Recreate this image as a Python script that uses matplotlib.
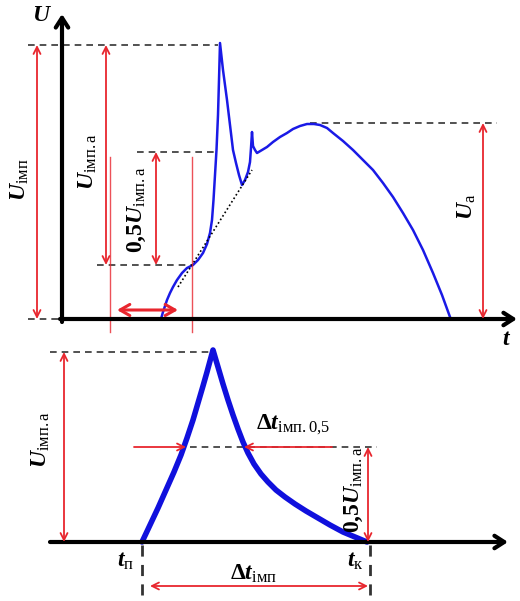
import numpy as np
import matplotlib.pyplot as plt

plt.rcParams['mathtext.fontset'] = 'custom'
plt.rcParams['mathtext.rm'] = 'Liberation Serif'
plt.rcParams['mathtext.it'] = 'Liberation Serif:italic'
plt.rcParams['mathtext.bf'] = 'Liberation Serif:bold:italic'
plt.rcParams['mathtext.sf'] = 'Liberation Serif:bold'

# top oscillogram (diagram units, y grows downwards)
top_x = [161, 163, 165, 167, 170, 173, 177, 182, 187, 193, 198, 203, 207, 210, 212, 213.5,
         215, 216.5, 218, 219, 220,
         223, 227, 230, 233, 236, 239, 242,
         245, 248, 250, 251, 252, 253, 255, 257,
         262, 267, 273, 280, 287, 293, 300, 307, 314, 320, 327, 333, 343, 353, 363, 373,
         383, 393, 403, 413, 423, 433, 442, 450]
top_y = [319, 312, 306, 300, 293, 287, 280, 273, 268, 265, 260, 253, 244, 233, 220, 200,
         175, 150, 115, 80, 43,
         70, 100, 125, 150, 163, 175, 185,
         180, 172, 162, 148, 132, 146, 150, 153,
         150, 147, 142, 137, 133, 129, 126, 124, 124, 125, 128, 133, 141, 150, 160, 170,
         183, 197, 213, 230, 250, 273, 295, 317]
tangent_x = [178, 252]
tangent_y = [287, 170]

# bottom pulse
bot_x = [142, 150, 158, 166, 174, 181, 187, 193, 198, 203, 207, 210, 213,
         218, 223, 228, 233, 238, 243, 248, 254, 261, 268, 276, 285, 295, 306, 318, 330,
         343, 355, 367]
bot_y = [542, 525, 508, 490, 472, 455, 438, 420, 403, 386, 372, 361, 350,
         367, 384, 400, 415, 429, 442, 453, 464, 474, 482, 490, 497, 504, 511, 518, 525,
         532, 537, 542]

red = '#e8262e'
fig = plt.figure(figsize=(5.2, 6.01), dpi=100)
ax = fig.add_axes([0, 0, 1, 1])
ax.set_xlim(0, 520)
ax.set_ylim(601, 0)
ax.axis('off')

def arrow(x0, y0, x1, y1, style='<->', color=red, lw=1.3, hl=0.5, hw=0.25):
    ax.annotate('', xy=(x1, y1), xytext=(x0, y0),
                arrowprops=dict(arrowstyle=f'{style},head_length={hl},head_width={hw}',
                                color=color, lw=lw, shrinkA=0, shrinkB=0))

def dash(x0, y0, x1, y1, lw=1.2):
    ax.plot([x0, x1], [y0, y1], color='#333333', lw=lw, ls=(0, (4, 3)))

# ---- top panel
arrow(62, 322, 62, 14, style='->', color='black', lw=3, hl=0.7, hw=0.45)
arrow(60, 319, 517, 319, style='->', color='black', lw=3, hl=0.7, hw=0.45)
dash(28, 45, 218, 45)
dash(137, 152, 215, 152)
dash(97, 265, 192, 265)
dash(310, 123, 497, 123)
dash(28, 319, 62, 319)

ax.plot(top_x, top_y, color='#1a1ae6', lw=1.8, solid_joinstyle='round')
ax.plot(tangent_x, tangent_y, color='black', lw=1.2, ls=(0, (1, 1.5)))

arrow(37, 45, 37, 319)
arrow(106, 45, 106, 265)
arrow(156, 152, 156, 265)
arrow(483, 123, 483, 319)
arrow(117, 310, 178, 310, lw=2.2, hl=0.7, hw=0.4)
ax.plot([110, 110], [157, 332], color=red, lw=1, alpha=0.8)
ax.plot([192, 192], [157, 332], color=red, lw=1, alpha=0.8)

ax.text(42, 14, r'$\mathbf{U}$', fontsize=17, ha='center', va='center')
ax.text(507, 338, r'$\mathbf{t}$', fontsize=17, ha='center', va='center')
ax.text(19, 180, r'$\mathbf{U}_{\mathrm{імп}}$', fontsize=17, rotation=90, ha='center', va='center')
ax.text(87, 162, r'$\mathbf{U}_{\mathrm{імп.а}}$', fontsize=17, rotation=90, ha='center', va='center')
ax.text(136, 210, r'$\mathsf{0{,}5}\mathbf{U}_{\mathrm{імп.а}}$', fontsize=17, rotation=90,
        ha='center', va='center')
ax.text(466, 207, r'$\mathbf{U}_{\mathrm{а}}$', fontsize=17, rotation=90, ha='center', va='center')

# ---- bottom panel
arrow(50, 542, 508, 542, style='->', color='black', lw=3, hl=0.7, hw=0.45)
dash(50, 352, 212, 352)
dash(190, 447, 377, 447)
dash(142, 545, 142, 601, lw=2)
dash(370, 545, 370, 601, lw=2)

ax.plot(bot_x, bot_y, color='#1010dd', lw=4, solid_capstyle='round', solid_joinstyle='round')

arrow(64, 352, 64, 542)
arrow(368, 447, 368, 542)
arrow(150, 586, 368, 586)
arrow(134, 447, 186, 447, style='->')
arrow(332, 447, 244, 447, style='->')

ax.text(40, 440, r'$\mathbf{U}_{\mathrm{імп.а}}$', fontsize=17, rotation=90, ha='center', va='center')
ax.text(353, 490, r'$\mathsf{0{,}5}\mathbf{U}_{\mathrm{імп.а}}$', fontsize=17, rotation=90,
        ha='center', va='center')
ax.text(293, 425, r'$\mathsf{Δ}\mathbf{t}_{\mathrm{імп.0{,}5}}$', fontsize=17, ha='center', va='center')
ax.text(254, 573, r'$\mathsf{Δ}\mathbf{t}_{\mathrm{імп}}$', fontsize=17, ha='center', va='center')
ax.text(126, 560, r'$\mathbf{t}_{\mathrm{п}}$', fontsize=17, ha='center', va='center')
ax.text(355, 560, r'$\mathbf{t}_{\mathrm{к}}$', fontsize=17, ha='center', va='center')

fig.savefig('out.png', dpi=100)
